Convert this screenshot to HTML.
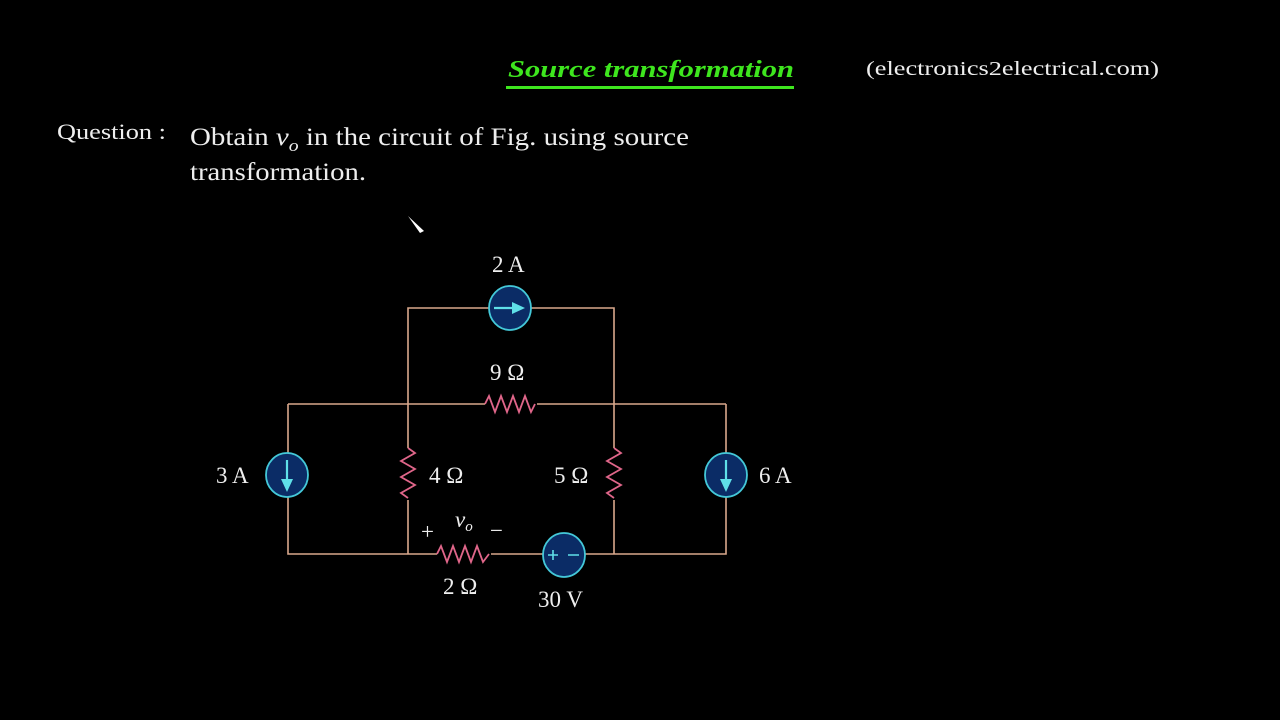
<!DOCTYPE html>
<html><head><meta charset="utf-8"><style>
html,body{margin:0;padding:0;background:#000;}
svg{display:block}
</style></head><body>
<svg width="1280" height="720" viewBox="0 0 1280 720" xmlns="http://www.w3.org/2000/svg">
<rect width="1280" height="720" fill="#000"/>
<text x="508" y="77" font-family="Liberation Serif, serif" font-size="24" font-weight="bold" font-style="italic" fill="#3ee61e" textLength="286" lengthAdjust="spacingAndGlyphs">Source transformation</text>
<rect x="506" y="86" width="288" height="3" fill="#3ee61e"/>
<text x="866" y="75" font-family="Liberation Serif, serif" font-size="20" fill="#eee" textLength="293" lengthAdjust="spacingAndGlyphs">(electronics2electrical.com)</text>
<text x="57" y="139" font-family="Liberation Serif, serif" font-size="22" fill="#eee" textLength="109" lengthAdjust="spacingAndGlyphs">Question :</text>
<text x="190" y="145" font-family="Liberation Serif, serif" font-size="25" fill="#eee" textLength="499" lengthAdjust="spacingAndGlyphs">Obtain <tspan font-style="italic">v</tspan><tspan font-style="italic" font-size="17" dy="6">o</tspan><tspan dy="-6"> in the circuit of Fig. using source</tspan></text>
<text x="190" y="180" font-family="Liberation Serif, serif" font-size="25" fill="#eee" textLength="176" lengthAdjust="spacingAndGlyphs">transformation.</text>
<path d="M408 216 L424 231 L420 233 Z" fill="#fff"/>
<g stroke="#d9a88c" stroke-width="1.6" fill="none">
<path d="M408 448 V308 H614 V448 M408 500 V554 M614 500 V554"/>
<path d="M288 404 H485 M537 404 H726"/>
<path d="M288 404 V554 H437 M491 554 H726 V404"/>
</g>
<g stroke="#e0668a" stroke-width="1.8" fill="none" stroke-linejoin="miter">
<path d="M485 404 l4 -8 l6 16 l6 -16 l6 16 l6 -16 l6 16 l6 -16 l6 16 l4 -8"/>
<path d="M408 448 l7 5 l-14 8 l14 8 l-14 8 l14 8 l-14 8 l7 5"/>
<path d="M614 448 l7 5 l-14 8 l14 8 l-14 8 l14 8 l-14 8 l7 5"/>
<path d="M437 554 l4 -8 l6 16 l6 -16 l6 16 l6 -16 l6 16 l6 -16 l6 16 l6 -8"/>
</g>
<g fill="#0b2c66" stroke="#44c8d8" stroke-width="1.8">
<ellipse cx="510" cy="308" rx="21" ry="22"/>
<ellipse cx="287" cy="475" rx="21" ry="22"/>
<ellipse cx="726" cy="475" rx="21" ry="22"/>
<ellipse cx="564" cy="555" rx="21" ry="22"/>
</g>
<g stroke="#5fe0e8" stroke-width="2.2" fill="#5fe0e8">
<path d="M494 308 H512" /><path d="M512 302 L525 308 L512 314 Z" stroke="none"/>
<path d="M287 460 V480"/><path d="M281 479 L287 492 L293 479 Z" stroke="none"/>
<path d="M726 460 V480"/><path d="M720 479 L726 492 L732 479 Z" stroke="none"/>
<path d="M548 555 H558 M553 550 V560 M568 555 H579" stroke-width="1.6"/>
</g>
<g font-family="Liberation Serif, serif" font-size="23" fill="#eee">
<text x="492" y="272">2 A</text>
<text x="490" y="380">9 Ω</text>
<text x="216" y="483">3 A</text>
<text x="429" y="483">4 Ω</text>
<text x="554" y="483">5 Ω</text>
<text x="759" y="483">6 A</text>
<text x="443" y="594">2 Ω</text>
<text x="538" y="607">30 V</text>
<text x="421" y="539">+</text>
<text x="490" y="538">−</text>
<text x="455" y="527" font-style="italic">v<tspan font-size="15" dy="4">o</tspan></text>
</g>
</svg>
</body></html>
